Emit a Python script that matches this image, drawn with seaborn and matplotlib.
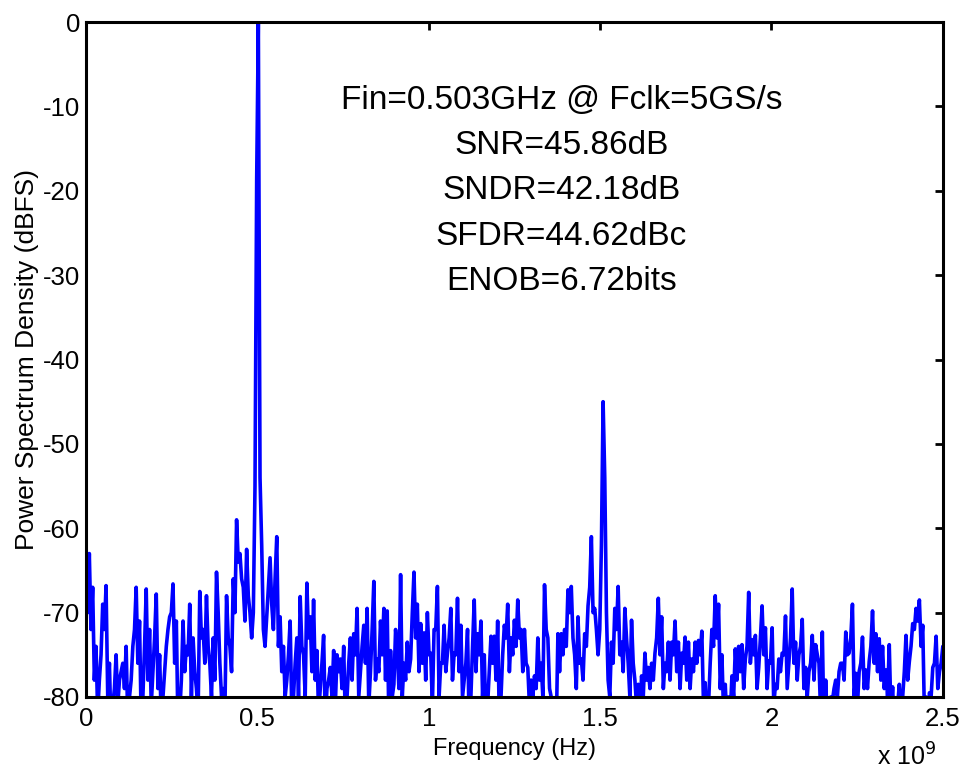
import numpy as np
import pandas as pd
import seaborn as sns
import matplotlib.pyplot as plt
from matplotlib.ticker import FuncFormatter

# spectrum, 1024-pt FFT -> bins 0..512 over 0..2.5 GHz
# even bins (0, 2, 4, ... 512)
even_low = [-61.3, -63, -67, -74, -78, -69, -66.8, -76, -81, -75,
            -78, -76, -74, -80, -74, -67, -71, -80, -67.2, -72,
            -77, -67.8, -75, -80, -74, -70.5, -66.6, -71, -82, -71,
            -74, -69, -73, -79, -67.5, -72, -68, -76, -73, -65.2,
            -76, -79, -68, -74, -66, -59, -63, -67, -62.5, -70,
            -70, -18.7, -54, -72, -70.5, -63.5, -72, -61, -70.5, -74,
            -78, -71, -80, -73]
even_mid1 = [-68.1, -75, -66.5, -70.5, -68.5, -74.5, -79, -72.7, -79, -76.5,
             -74.5, -75, -75.5, -74, -80, -73, -72.5, -69.5, -77, -71.5,
             -69.5, -77, -66.3, -75.5, -71, -69.5, -69.8, -74.5, -78.5, -74.5,
             -65.5, -76, -73.5, -75.5, -65.2, -69, -71.3, -72.4, -70, -74.8,
             -72, -66.9, -76, -71.5, -74.8, -69.5, -74.8, -68.3, -71.5, -78,
             -72, -80, -68.5, -72.5, -71, -75, -81, -72.8, -72.8, -71,
             -80, -71.5, -69]
even_mid2 = [-73, -70.9, -68.5, -72, -72, -76.5, -78, -77.5, -73, -76,
             -66.7, -73, -80, -81, -72.5, -72.5, -72, -67.3, -66.9, -75,
             -70.5, -75.5, -72.5, -69.2, -61, -69.5, -75, -62, -54, -78,
             -73.5, -69.5, -66.9, -73.5, -69.5, -76, -70.9, -78, -78.5, -77.5,
             -74.8, -76.5, -76, -74.8, -68.3, -70.5, -76, -73.5, -73.5, -71,
             -73.5, -74.8, -72.9, -73.5, -75.5, -73.5, -73.3, -72.2, -78.3, -81,
             -72]
even_high = [-68, -69, -75, -78.5, -80, -77.5, -74.3, -74, -73.8, -75.5,
             -67.6, -73.2, -72.7, -76.5, -69.2, -71.8, -75.7, -71.8, -78.5, -75.5,
             -74.8, -70.4, -76, -67.2, -73.5, -75, -70.8, -76.5, -77, -72.7,
             -73.8, -76, -72.3, -78, -81, -80.5, -78, -77, -76, -72.3,
             -74.8, -69, -77.2, -77, -72.9, -76.8, -75.8, -69.8, -72.5, -73.1,
             -74, -76.8, -73.8, -78.8, -81, -78.5, -80, -72.7, -75.8, -71.3,
             -69.5, -68.5, -71.5, -80, -79.5, -76.5, -72.8, -77, -74]

# odd bins (1, 3, 5, ... 511)
odd_a = [-70, -72, -78, -82, -75, -72, -80, -84, -79, -81, -77, -79, -83, -78, -72, -76,
         -83, -74, -78, -81, -73, -79, -83, -77, -72, -70, -76, -84, -78, -77, -75, -80,
         -77, -82, -73, -76, -74, -80, -78, -70, -80, -82, -73, -77, -70, -64, -66, -71,
         -68, -73, -55, 0, -62, -74, -67, -69, -66, -74, -77, -80, -75, -82, -76, -80]
odd_b = [-74, -80, -73, -77, -78, -82, -76, -83, -78, -80, -81, -77, -79, -83, -76, -78,
         -75, -80, -74, -76, -81, -72, -78, -77, -75, -78, -83, -80, -72, -79, -80, -78,
         -77, -70, -73, -77, -76, -78, -75, -81, -72, -80, -76, -77, -73, -78, -75, -77,
         -80, -76, -84, -74, -77, -75, -80, -83, -77, -76, -78, -83, -75, -73, -77, -75]
odd_c = [-74, -73, -77, -76, -81, -80, -79, -78, -80, -72, -79, -83, -84, -77, -75, -74,
         -70, -73, -79, -76, -78, -74, -67, -70, -72, -72, -45, -70, -80, -76, -72, -75,
         -77, -73, -80, -76, -81, -82, -80, -78, -79, -78, -73, -75, -79, -77, -78, -75,
         -77, -79, -76, -78, -79, -77, -76, -75, -81, -84, -76, -74, -73, -79, -82, -83]
odd_d = [-82, -80, -78, -77, -79, -74, -76, -75, -79, -73, -75, -79, -76, -81, -79, -77,
         -75, -79, -73, -76, -78, -74, -79, -80, -76, -78, -75, -82, -84, -83, -80, -79,
         -80, -76, -78, -75, -73, -80, -81, -76, -79, -79, -74, -76, -77, -78, -79, -80,
         -82, -84, -81, -83, -77, -78, -74, -72, -71, -74, -82, -84, -80, -76, -79, -76]

fs = 5e9
nfft = 1024
info_lines = ['Fin=0.503GHz @ Fclk=5GS/s', 'SNR=45.86dB', 'SNDR=42.18dB',
              'SFDR=44.62dBc', 'ENOB=6.72bits']

even = even_low + even_mid1 + even_mid2 + even_high
odd = odd_a + odd_b + odd_c + odd_d
psd = np.empty(len(even) + len(odd))
psd[0::2] = even
psd[1::2] = odd
df = pd.DataFrame({'freq': np.arange(len(psd)) * fs / nfft, 'psd': psd})

sns.set_style('white')
plt.rcParams['font.family'] = ['Liberation Sans', 'DejaVu Sans']
plt.rcParams['axes.unicode_minus'] = False
plt.rcParams['text.color'] = 'black'
plt.rcParams['axes.labelcolor'] = 'black'
plt.rcParams['xtick.color'] = 'black'
plt.rcParams['ytick.color'] = 'black'

fig = plt.figure(figsize=(9.66, 7.74), dpi=100)
ax = fig.add_axes([0.089, 0.0995, 0.887, 0.872])
sns.lineplot(data=df, x='freq', y='psd', color='#0000ff', linewidth=2.6, ax=ax)

ax.set_xlim(0, 2.5e9)
ax.set_ylim(-80, 0)
ax.set_xticks([0, 0.5e9, 1e9, 1.5e9, 2e9, 2.5e9])
ax.set_yticks(range(-80, 1, 10))
ax.xaxis.set_major_formatter(FuncFormatter(lambda v, p: f'{v / 1e9:g}'))
ax.tick_params(direction='in', length=6, width=2, labelsize=18.5, top=True, right=True)
ax.tick_params(axis='x', pad=7)
ax.tick_params(axis='y', pad=4)
for s in ax.spines.values():
    s.set_linewidth(2.2)
    s.set_color('black')

ax.set_xlabel('Frequency (Hz)', fontsize=17, labelpad=5)
ax.set_ylabel('Power Spectrum Density (dBFS)', fontsize=19, labelpad=3)
fig.text(0.908, 0.004, r'x 10$^{9}$', fontsize=18, ha='left', va='bottom')

# stats block, one line per row
for i, line in enumerate(info_lines):
    ax.text(0.555, 0.884 - i * 0.067, line, transform=ax.transAxes,
            ha='center', va='center', fontsize=24)

fig.savefig('out.png', dpi=100)
